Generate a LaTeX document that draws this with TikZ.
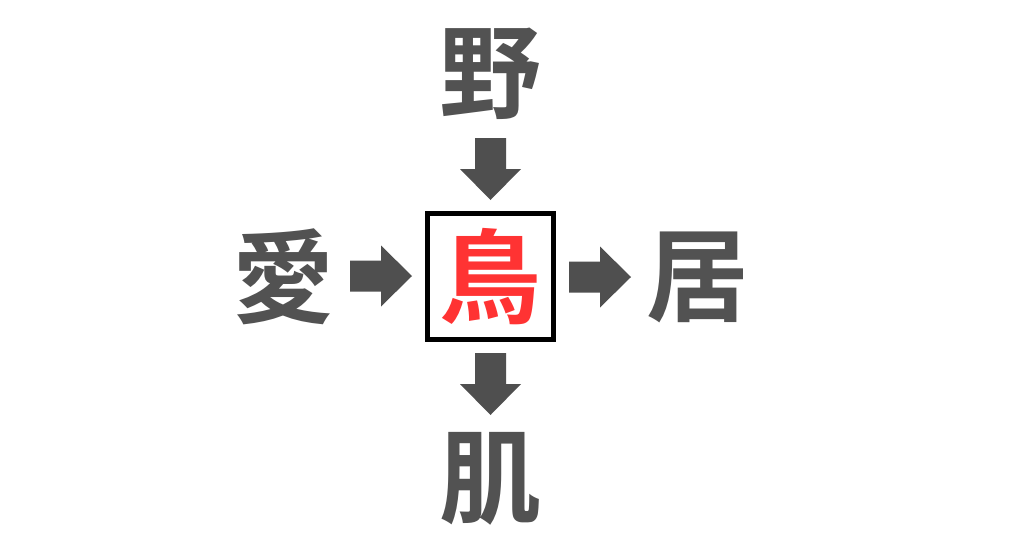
\documentclass[tikz,border=0pt]{standalone}
\usepackage{fontspec}
\newfontfamily\cjk{Noto Sans CJK JP Bold}
\definecolor{txtgray}{HTML}{525252}
\definecolor{arrgray}{HTML}{4F4F4F}
\definecolor{birdred}{HTML}{FF3333}
\begin{document}
\begin{tikzpicture}[x=1pt,y=-1pt,
  kanji/.style={inner sep=0pt,font=\cjk\fontsize{102}{102}\selectfont,text=txtgray},
  blockarrow/.style={fill=arrgray,draw=none}]
\useasboundingbox (0,0) rectangle (1024,538);
\fill[white] (0,0) rectangle (1024,538);
\node[kanji] (top) at (490.5,74) {野};
\node[kanji] (left) at (283,277) {愛};
\node[kanji] (right) at (697,277) {居};
\node[kanji] (bottom) at (490.5,479) {肌};
\node[draw=black,line width=5.5pt,minimum width=126pt,minimum height=126pt,inner sep=0pt,
  font=\cjk\fontsize{102}{102}\selectfont,text=birdred] (center) at (490.5,276.5) {鳥};
\newcommand{\arrowpath}{(0,-15.5) -- (31,-15.5) -- (31,-30.5) -- (62,0) -- (31,30.5) -- (31,15.5) -- (0,15.5) -- cycle}
\begin{scope}[shift={(490.5,138)},rotate=-90]
\fill[blockarrow] \arrowpath;
\end{scope}
\begin{scope}[shift={(490.5,353)},rotate=-90]
\fill[blockarrow] \arrowpath;
\end{scope}
\begin{scope}[shift={(350,276)}]
\fill[blockarrow] \arrowpath;
\end{scope}
\begin{scope}[shift={(569,277)}]
\fill[blockarrow] \arrowpath;
\end{scope}
\end{tikzpicture}
\end{document}
